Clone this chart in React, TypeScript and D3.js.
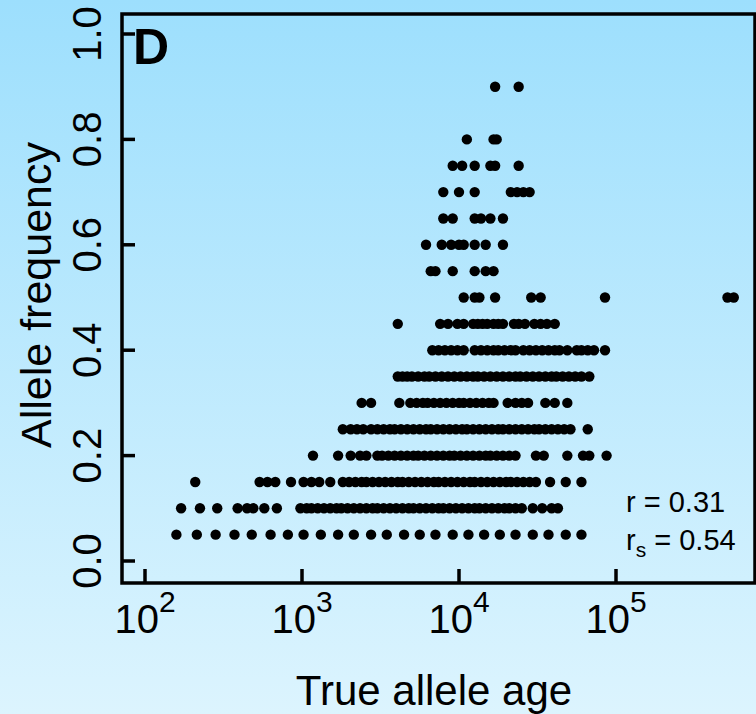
import React from 'react';
import * as d3 from 'd3';

const W = 756;
const H = 714;

// Axis ticks
const xTickValues = [1e2, 1e3, 1e4, 1e5];
const xTickExponents = ['2', '3', '4', '5'];
const yTickValues = [0, 0.2, 0.4, 0.6, 0.8, 1.0];
const yTickLabels = ['0.0', '0.2', '0.4', '0.6', '0.8', '1.0'];

// Frequency levels (y) and log10(true allele age) readings (x) per level
const freqLevels = [0.05, 0.1, 0.15, 0.2, 0.25, 0.3, 0.35, 0.4, 0.45, 0.5, 0.55, 0.6, 0.65, 0.7, 0.75, 0.8, 0.9];

const logAge005 = [2.20, 2.33, 2.45, 2.57, 2.68, 2.80, 2.91, 3.01, 3.12, 3.23, 3.33, 3.44, 3.54, 3.65, 3.75, 3.85, 3.96, 4.06, 4.16, 4.26, 4.36, 4.47, 4.57, 4.68, 4.78];
const logAge010 = [2.23, 2.35, 2.46, 2.59, 2.65, 2.69, 2.76, 2.84, 2.99, 3.03, 3.06, 3.10, 3.14, 3.18, 3.22, 3.25, 3.29, 3.33, 3.37, 3.41, 3.45, 3.48, 3.52, 3.56, 3.60, 3.64, 3.68, 3.71, 3.75, 3.79, 3.83, 3.87, 3.90, 3.94, 3.98, 4.02, 4.06, 4.10, 4.13, 4.17, 4.21, 4.25, 4.29, 4.32, 4.36, 4.40, 4.47, 4.53, 4.59, 4.63];
const logAge015 = [2.32, 2.73, 2.78, 2.83, 2.93, 3.01, 3.06, 3.11, 3.18, 3.26, 3.30, 3.34, 3.38, 3.41, 3.45, 3.49, 3.53, 3.57, 3.61, 3.64, 3.68, 3.72, 3.76, 3.80, 3.84, 3.87, 3.91, 3.95, 3.99, 4.03, 4.07, 4.10, 4.14, 4.18, 4.22, 4.26, 4.30, 4.33, 4.37, 4.41, 4.45, 4.49, 4.58, 4.68, 4.78];
const logAge020 = [3.07, 3.23, 3.31, 3.37, 3.41, 3.48, 3.51, 3.55, 3.59, 3.63, 3.67, 3.71, 3.74, 3.78, 3.82, 3.86, 3.90, 3.94, 3.97, 4.01, 4.05, 4.09, 4.13, 4.17, 4.20, 4.24, 4.28, 4.32, 4.36, 4.49, 4.54, 4.69, 4.79, 4.83, 4.94];
const logAge025 = [3.26, 3.31, 3.35, 3.39, 3.44, 3.48, 3.52, 3.56, 3.59, 3.63, 3.67, 3.71, 3.75, 3.79, 3.82, 3.86, 3.90, 3.94, 3.98, 4.02, 4.05, 4.09, 4.13, 4.17, 4.21, 4.25, 4.28, 4.32, 4.36, 4.40, 4.44, 4.48, 4.51, 4.55, 4.59, 4.63, 4.67, 4.71, 4.82];
const logAge030 = [3.38, 3.44, 3.62, 3.69, 3.73, 3.77, 3.80, 3.84, 3.88, 3.92, 3.96, 4.00, 4.03, 4.07, 4.11, 4.15, 4.19, 4.22, 4.31, 4.36, 4.40, 4.44, 4.55, 4.61, 4.69];
const logAge035 = [3.61, 3.64, 3.67, 3.70, 3.74, 3.78, 3.81, 3.85, 3.89, 3.93, 3.97, 4.01, 4.05, 4.09, 4.12, 4.16, 4.20, 4.24, 4.28, 4.32, 4.36, 4.39, 4.43, 4.47, 4.51, 4.55, 4.59, 4.62, 4.66, 4.70, 4.74, 4.78, 4.83];
const logAge040 = [3.83, 3.87, 3.91, 3.95, 3.99, 4.03, 4.10, 4.14, 4.18, 4.22, 4.25, 4.29, 4.33, 4.36, 4.41, 4.45, 4.49, 4.53, 4.57, 4.61, 4.64, 4.69, 4.75, 4.78, 4.82, 4.86, 4.93];
const logAge045 = [3.61, 3.88, 3.93, 3.99, 4.03, 4.09, 4.12, 4.15, 4.18, 4.22, 4.25, 4.28, 4.35, 4.38, 4.42, 4.48, 4.52, 4.56, 4.61];
const logAge050 = [4.03, 4.10, 4.13, 4.23, 4.46, 4.52, 4.93, 5.71, 5.75];
const logAge055 = [3.82, 3.85, 3.96, 4.10, 4.17, 4.22];
const logAge060 = [3.79, 3.89, 3.95, 4.00, 4.03, 4.10, 4.17, 4.28];
const logAge065 = [3.90, 3.96, 4.10, 4.14, 4.20, 4.28];
const logAge070 = [3.90, 4.00, 4.10, 4.33, 4.37, 4.41, 4.45];
const logAge075 = [3.96, 4.02, 4.10, 4.20, 4.23, 4.38];
const logAge080 = [4.05, 4.22, 4.24];
const logAge090 = [4.23, 4.38];

const logAgeRows = [logAge005, logAge010, logAge015, logAge020, logAge025, logAge030, logAge035, logAge040, logAge045, logAge050, logAge055, logAge060, logAge065, logAge070, logAge075, logAge080, logAge090];

const statPearson = '0.31';
const statSpearman = '0.54';

export default function App() {
  const x = d3.scaleLog().domain([1e2, 1e5]).range([145, 616]);
  const y = d3.scaleLinear().domain([0, 1]).range([561, 34]);

  const points: { a: number; f: number }[] = [];
  freqLevels.forEach((f, i) => {
    logAgeRows[i].forEach((la) => points.push({ a: Math.pow(10, la), f }));
  });

  const box = { l: 122, r: 755, t: 14, b: 583 };
  const font = '"Liberation Sans", Arial, Helvetica, sans-serif';

  return (
    <svg width={W} height={H} style={{ position: 'absolute', left: 0, top: 0 }} fontFamily={font}>
      <defs>
        <linearGradient id="bg" x1="0" y1="0" x2="0" y2="1">
          <stop offset="0" stopColor="#9ddffd" />
          <stop offset="1" stopColor="#dcf4fe" />
        </linearGradient>
      </defs>
      <rect x={0} y={0} width={W} height={H} fill="url(#bg)" />

      {/* points */}
      {points.map((p, i) => (
        <circle key={i} cx={x(p.a)} cy={y(p.f)} r={5.2} fill="#000" />
      ))}

      {/* box */}
      <rect x={box.l} y={box.t} width={box.r - box.l} height={box.b - box.t} fill="none" stroke="#000" strokeWidth={3.5} />

      {/* y ticks */}
      {yTickValues.map((v, i) => (
        <g key={'yt' + i}>
          <line x1={box.l} x2={box.l + 13} y1={y(v)} y2={y(v)} stroke="#000" strokeWidth={3.5} />
          <text transform={`translate(101,${y(v)}) rotate(-90)`} textAnchor="middle" fontSize={40} fill="#000">
            {yTickLabels[i]}
          </text>
        </g>
      ))}

      {/* x ticks */}
      {xTickValues.map((v, i) => (
        <g key={'xt' + i}>
          <line x1={x(v)} x2={x(v)} y1={box.b} y2={box.b - 14} stroke="#000" strokeWidth={3.5} />
          <text x={x(v)} y={633} textAnchor="middle" fontSize={40} fill="#000">
            10<tspan dy={-21} fontSize={30}>{xTickExponents[i]}</tspan>
          </text>
        </g>
      ))}

      {/* axis titles */}
      <text x={434} y={705} textAnchor="middle" fontSize={42} fill="#000">True allele age</text>
      <text transform="translate(51,295) rotate(-90)" textAnchor="middle" fontSize={43} fill="#000">Allele frequency</text>

      {/* panel letter */}
      <text x={133} y={64} fontSize={50} fontWeight="bold" fill="#000">D</text>

      {/* stats */}
      <text x={626} y={512} fontSize={29} fill="#000">r = {statPearson}</text>
      <text x={626} y={550} fontSize={29} fill="#000">
        r<tspan dy={7} fontSize={21}>s</tspan><tspan dy={-7}> = {statSpearman}</tspan>
      </text>
    </svg>
  );
}
